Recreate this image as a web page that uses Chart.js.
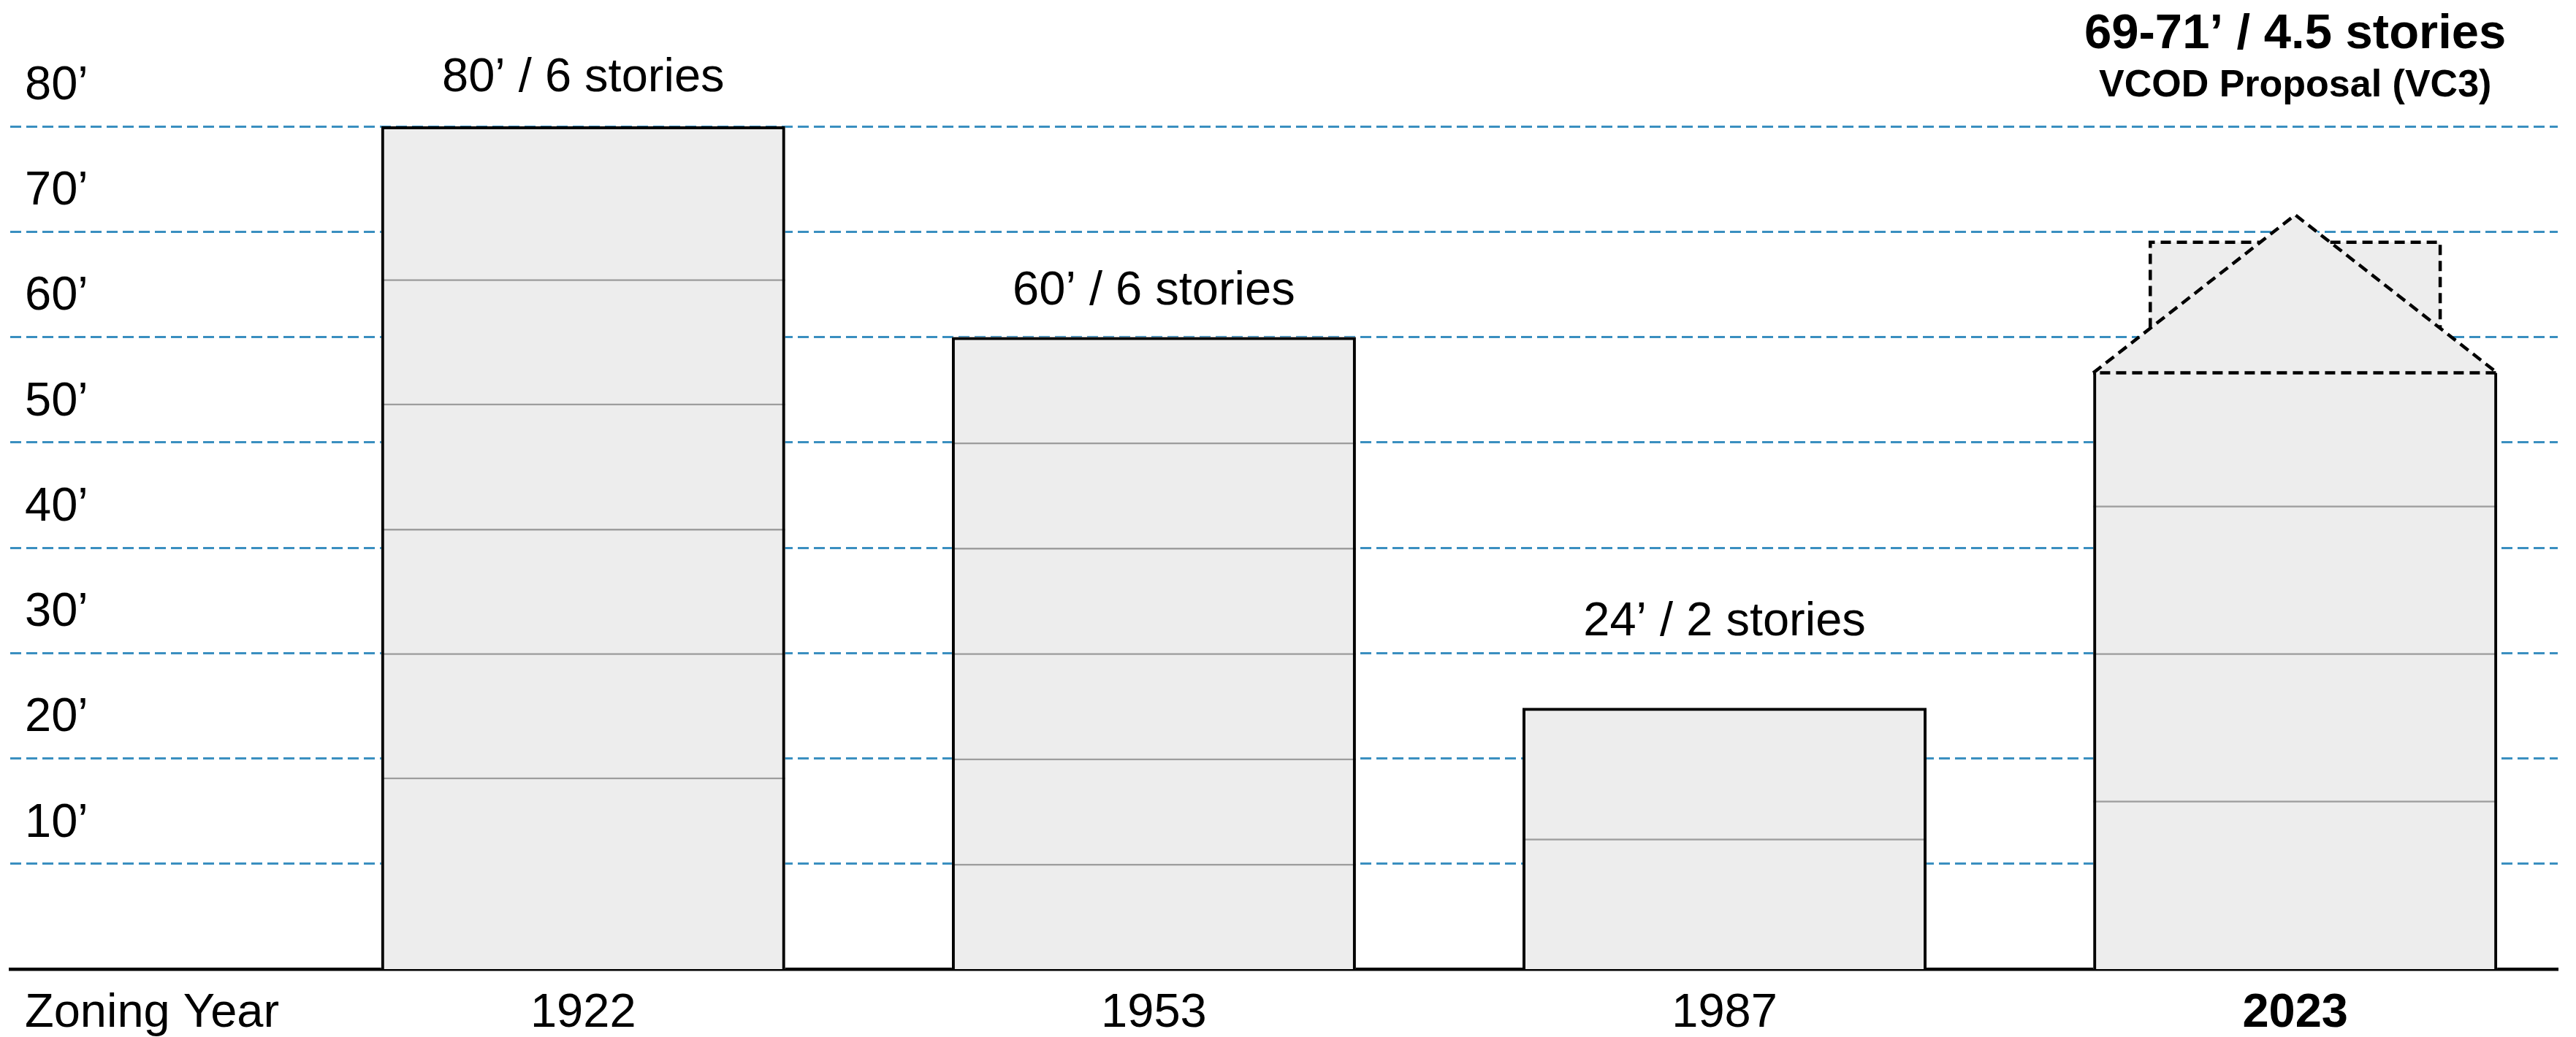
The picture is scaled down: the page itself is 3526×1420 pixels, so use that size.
<!DOCTYPE html>
<html>
<head>
<meta charset="utf-8">
<script src="https://cdn.jsdelivr.net/npm/chart.js@4.4.1/dist/chart.umd.min.js"></script>
<style>
  html, body { margin: 0; padding: 0; background: #fff; }
  canvas { display: block; }
</style>
</head>
<body>
<canvas id="zoningChart" width="3526" height="1420"></canvas>
<script>
// zoning years and allowed building height (feet)
const years = ['1922', '1953', '1987', '2023'];
const heights = [80, 60, 24.8, 56.6];
// floor lines drawn inside each building (feet)
const floorLines = [
    [18.2, 30, 41.8, 53.7, 65.5],
    [10, 20, 30, 40, 50],
    [12.4],
    [16, 30, 44]
];
const heightLabels = ['80’ / 6 stories', '60’ / 6 stories', '24’ / 2 stories', '69-71’ / 4.5 stories'];
const proposalNote = 'VCOD Proposal (VC3)';
// 2023 proposal roof: box top and gable peak (feet)
const roofIndex = 3;
const roofBox = 69;
const roofPeak = 71.6;
const yTicks = [10, 20, 30, 40, 50, 60, 70, 80];

const FONT = '"Liberation Sans", Arial, sans-serif';
const BAR_PCT = 0.708;
const BOX_HALF = 0.254;
const labelLift = [48, 45, 99, 228];
const noteLift = 162;

// roof shape, built from the roof values
const cx = roofIndex;
const hw = BAR_PCT / 2;
const base = heights[roofIndex];
const sideY = base + (hw - BOX_HALF) / hw * (roofPeak - base);
const topX = hw * (1 - (roofBox - base) / (roofPeak - base));
const roofShape = [
    {x: cx - hw, y: base}, {x: cx - BOX_HALF, y: sideY}, {x: cx - BOX_HALF, y: roofBox},
    {x: cx - topX, y: roofBox}, {x: cx, y: roofPeak}, {x: cx + topX, y: roofBox},
    {x: cx + BOX_HALF, y: roofBox}, {x: cx + BOX_HALF, y: sideY}, {x: cx + hw, y: base},
    {x: cx - hw, y: base}
];
const roofOutline = [
    {x: cx - hw, y: base}, {x: cx, y: roofPeak}, {x: cx + hw, y: base}, {x: cx - hw, y: base},
    {x: cx, y: null},
    {x: cx - BOX_HALF, y: sideY}, {x: cx - BOX_HALF, y: roofBox}, {x: cx - topX, y: roofBox},
    {x: cx, y: null},
    {x: cx + topX, y: roofBox}, {x: cx + BOX_HALF, y: roofBox}, {x: cx + BOX_HALF, y: sideY}
];

const maxFloors = Math.max(...floorLines.map(f => f.length));
const floorSets = [];
for (let k = 0; k < maxFloors; k++) {
    floorSets.push({
        type: 'bar',
        data: floorLines.map((f, i) => f[k] != null ? {x: i, y: [0, f[k]]} : null).filter(d => d),
        backgroundColor: 'rgba(0,0,0,0)',
        borderColor: '#9d9d9d',
        borderWidth: {top: 2.5, left: 0, right: 0, bottom: 0},
        borderSkipped: false,
        order: 2
    });
}

const labelPlugin = {
    id: 'heightLabels',
    afterDraw(chart) {
        const {ctx, scales: {x, y}} = chart;
        ctx.save();
        ctx.fillStyle = '#000';
        ctx.textAlign = 'center';
        ctx.textBaseline = 'alphabetic';
        heightLabels.forEach((txt, i) => {
            const top = i === roofIndex ? roofPeak : heights[i];
            const px = x.getPixelForValue(i);
            const py = y.getPixelForValue(top);
            ctx.font = (i === roofIndex ? 'bold 67px ' : '65px ') + FONT;
            ctx.fillText(txt, px, py - labelLift[i]);
            if (i === roofIndex) {
                ctx.font = 'bold 52px ' + FONT;
                ctx.fillText(proposalNote, px, py - noteLift);
            }
        });
        // row title next to the year labels
        ctx.textAlign = 'left';
        ctx.textBaseline = 'middle';
        ctx.font = '65px ' + FONT;
        ctx.fillText('Zoning Year', x.left + 20, x.top + 22 + 39);
        ctx.restore();
    }
};

const ctx = document.getElementById('zoningChart').getContext('2d');
const zoningChart = new Chart(ctx, {
    type: 'bar',
    data: {
        datasets: [
            {
                // building outlines
                type: 'bar',
                data: heights.map((h, i) => ({x: i, y: h})),
                backgroundColor: 'rgba(0,0,0,0)',
                borderColor: '#000',
                borderWidth: c => c.dataIndex === roofIndex ? {top: 0, left: 4, right: 4, bottom: 0} : 4,
                order: 0
            },
            {
                type: 'line',
                data: roofOutline,
                borderColor: '#000',
                borderWidth: 4.5,
                borderDash: [14, 8],
                pointRadius: 0,
                tension: 0,
                spanGaps: false,
                fill: false,
                order: 0
            },
            ...floorSets,
            {
                type: 'line',
                data: roofShape,
                borderWidth: 0,
                borderColor: 'rgba(0,0,0,0)',
                backgroundColor: '#ededed',
                pointRadius: 0,
                tension: 0,
                fill: 'shape',
                order: 3
            },
            {
                // building fill
                type: 'bar',
                data: heights.map((h, i) => ({x: i, y: h})),
                backgroundColor: '#ededed',
                borderWidth: 0,
                order: 4
            }
        ]
    },
    options: {
        responsive: false,
        devicePixelRatio: 1,
        animation: false,
        grouped: false,
        barPercentage: BAR_PCT,
        categoryPercentage: 1,
        layout: { padding: { left: 14, right: 25, top: 0, bottom: 0 } },
        plugins: {
            legend: { display: false },
            tooltip: { enabled: false }
        },
        scales: {
            x: {
                type: 'linear',
                min: -1.004,
                max: 3.46,
                offset: false,
                z: 1,
                grid: { display: false, drawTicks: false },
                border: { display: true, color: '#000', width: 4.5 },
                afterBuildTicks: axis => { axis.ticks = years.map((_, i) => ({value: i})); },
                afterFit: s => { s.height = 93; s.paddingLeft = 0; s.paddingRight = 0; },
                ticks: {
                    autoSkip: false,
                    maxRotation: 0,
                    padding: 22,
                    color: '#000',
                    font: c => ({ family: FONT, size: 65, weight: c.tick && c.tick.value === roofIndex ? 'bold' : 'normal' }),
                    callback: v => years[v]
                }
            },
            y: {
                type: 'linear',
                min: 0,
                max: 92,
                grid: { color: '#3a8fc0', lineWidth: 3, drawTicks: false },
                border: { display: false, dash: [15, 7] },
                afterBuildTicks: axis => { axis.ticks = yTicks.map(v => ({value: v})); },
                afterFit: s => { s.width = 0; s.paddingTop = 0; s.paddingBottom = 0; },
                ticks: {
                    mirror: true,
                    padding: 20,
                    labelOffset: -55,
                    color: '#000',
                    font: { family: FONT, size: 65 },
                    callback: v => v + '’'
                }
            }
        }
    },
    plugins: [labelPlugin]
});
</script>
</body>
</html>
